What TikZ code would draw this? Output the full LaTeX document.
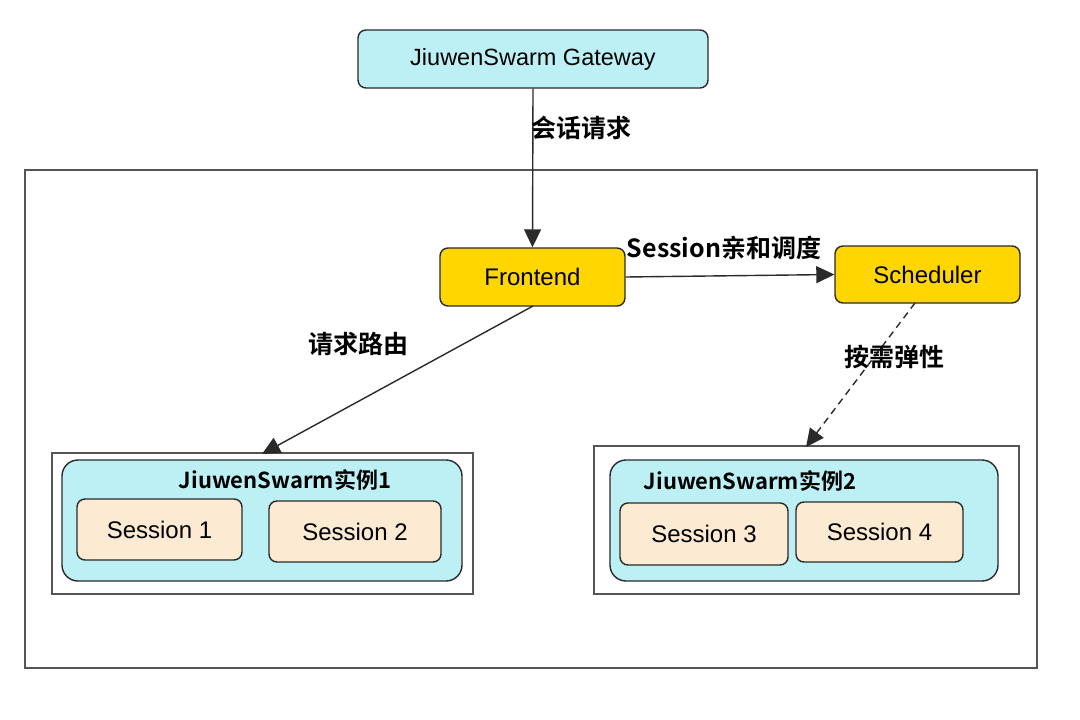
\documentclass[tikz,border=0pt]{standalone}
\usepackage{fontspec}
\setmainfont{Liberation Sans}
\newfontfamily\cjk{Noto Sans CJK SC}[BoldFont={Noto Sans CJK SC Bold}]
\usetikzlibrary{arrows.meta}
\definecolor{cyanfill}{HTML}{BDF0F5}
\definecolor{goldfill}{HTML}{FFD600}
\definecolor{peach}{HTML}{FCEAD3}
\definecolor{edge}{HTML}{2A2A2A}
\tikzset{
  box/.style={draw=edge, line width=1.4pt, rounded corners=8pt, inner sep=0pt},
  gw/.style={box, fill=cyanfill, font=\fontsize{23.5}{27}\selectfont},
  gold/.style={box, fill=goldfill, font=\fontsize{24}{28}\selectfont},
  sess/.style={box, fill=peach, font=\fontsize{24}{28}\selectfont},
  inst/.style={draw=edge, line width=1.4pt, rounded corners=16pt, fill=cyanfill},
  frame/.style={draw=edge!80, line width=1.2pt},
  lbl/.style={font=\cjk\bfseries\fontsize{25}{29}\selectfont, inner sep=1pt},
  ttl/.style={font=\cjk\bfseries\fontsize{22}{26}\selectfont, inner sep=1pt},
  conn/.style={draw=edge, line width=1.4pt, -{Triangle[length=18pt,width=17pt]}},
}
\begin{document}
\begin{tikzpicture}[x=1pt,y=-1pt]
\useasboundingbox[fill=white] (0,0) rectangle (1080,720);
% outer frame
\draw[frame] (25,170) rectangle (1037,668);
% gateway
\node[gw, minimum width=350pt, minimum height=58pt] (gw) at (533,59) {JiuwenSwarm Gateway};
% frontend and scheduler
\node[gold, minimum width=185pt, minimum height=58pt] (fe) at (532.5,277) {Frontend};
\node[gold, minimum width=185pt, minimum height=57pt] (sch) at (927.5,274.5) {Scheduler};
% containers
\node[frame, minimum width=421pt, minimum height=141pt, inner sep=0pt] (c1) at (262.5,523.5) {};
\node[frame, minimum width=425pt, minimum height=148pt, inner sep=0pt] (c2) at (806.5,520) {};
% instances
\node[inst, minimum width=400pt, minimum height=121pt, inner sep=0pt] (i1) at (262,520.5) {};
\node[inst, minimum width=388pt, minimum height=121pt, inner sep=0pt] (i2) at (804,520.5) {};
\node[ttl] (t1) at (285,480) {JiuwenSwarm实例1};
\node[ttl] (t2) at (750,481) {JiuwenSwarm实例2};
% sessions
\node[sess, minimum width=165pt, minimum height=61pt] (s1) at (159.5,529.5) {Session 1};
\node[sess, minimum width=172pt, minimum height=61pt] (s2) at (355,531.5) {Session 2};
\node[sess, minimum width=168pt, minimum height=62pt] (s3) at (704,534) {Session 3};
\node[sess, minimum width=167pt, minimum height=60pt] (s4) at (879.5,532) {Session 4};
% connectors
\draw[conn] (gw.south) -- (fe.north);
\node[lbl] (l1) at (581,128) {会话请求};
\draw[conn] (fe.east) -- (sch.west);
\node[lbl] (l2) at (724,248) {Session亲和调度};
\coordinate (fe1) at (533,306);
\coordinate (c1t) at (262,454);
\draw[conn] (fe1) -- (c1t);
\node[lbl] (l3) at (358,344) {请求路由};
\coordinate (sch1) at (915,303);
\coordinate (c2t) at (806,447);
\draw[conn, dashed, dash pattern=on 7pt off 5pt] (sch1) -- (c2t);
\node[lbl] (l4) at (894,357) {按需弹性};
\end{tikzpicture}
\end{document}
